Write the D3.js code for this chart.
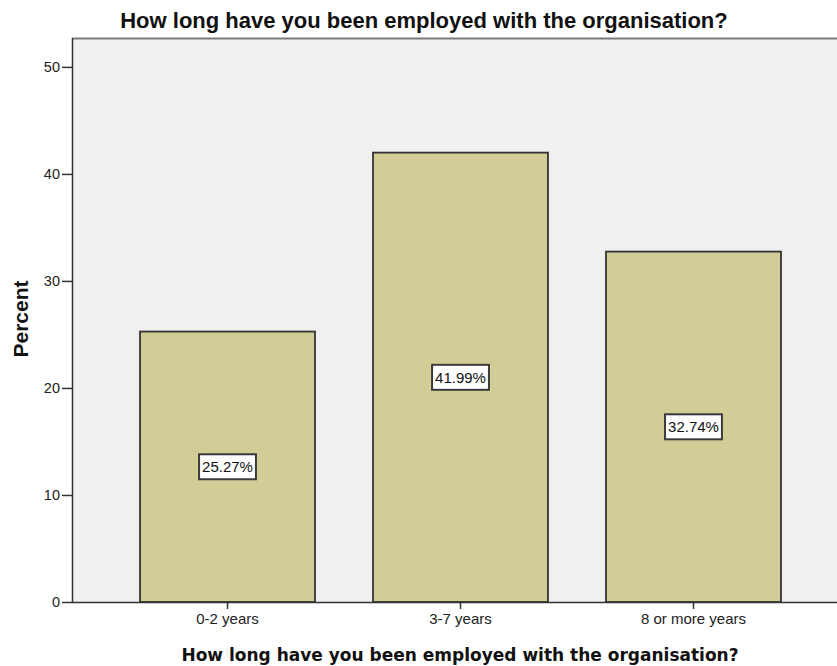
<!DOCTYPE html>
<html>
<head>
<meta charset="utf-8">
<script src="https://cdn.jsdelivr.net/npm/d3@7"></script>
<style>
  body { margin: 0; background: #ffffff; }
  svg { display: block; font-family: Arial, "Liberation Sans", sans-serif; }
</style>
</head>
<body>
<svg id="chart" width="837" height="666"></svg>
<script>
// Employment duration categories and their share of respondents (%)
const categories = ["0-2 years", "3-7 years", "8 or more years"];
const percents = [25.27, 41.99, 32.74];
const yTicks = [0, 10, 20, 30, 40, 50];
const valueLabels = ["25.27%", "41.99%", "32.74%"];

const titleText = "How long have you been employed with the organisation?";

const svg = d3.select("#chart");
const plot = { left: 72, right: 849, top: 38, bottom: 602 };

const x = d3.scaleBand()
  .domain(categories)
  .range([plot.left, plot.right])
  .paddingInner(0.249)
  .paddingOuter(0.292);

const y = d3.scaleLinear()
  .domain([0, 52.7])
  .range([plot.bottom, plot.top]);

// Plot background
svg.append("rect")
  .attr("x", plot.left).attr("y", plot.top)
  .attr("width", plot.right - plot.left).attr("height", plot.bottom - plot.top)
  .attr("fill", "#f0f0f0");

// Frame: top border
svg.append("line")
  .attr("x1", plot.left).attr("x2", plot.right)
  .attr("y1", plot.top + 0.5).attr("y2", plot.top + 0.5)
  .attr("stroke", "#7a7a7a").attr("stroke-width", 2);

// Bars
const data = categories.map((c, i) => ({ cat: c, value: percents[i], label: valueLabels[i] }));

svg.append("g").selectAll("rect")
  .data(data)
  .join("rect")
  .attr("x", d => x(d.cat))
  .attr("y", d => y(d.value))
  .attr("width", x.bandwidth())
  .attr("height", d => y(0) - y(d.value))
  .attr("fill", "#d2cd96")
  .attr("stroke", "#333333")
  .attr("stroke-width", 1.8);

// Y axis
const yAxis = d3.axisLeft(y).tickValues(yTicks).tickSize(10).tickPadding(2).tickSizeOuter(0);
const gy = svg.append("g")
  .attr("transform", `translate(${plot.left},0)`)
  .call(yAxis);
gy.select(".domain").attr("stroke", "#333").attr("stroke-width", 1.5)
  .attr("d", `M0.5,${plot.top}V${plot.bottom}`);
gy.selectAll(".tick line").attr("stroke", "#333").attr("stroke-width", 1.5);
gy.selectAll(".tick text")
  .attr("fill", "#222")
  .style("font-size", "14.5px")
  .style("font-family", "Arial, 'Liberation Sans', sans-serif");

// X axis
const xAxis = d3.axisBottom(x).tickSize(7).tickPadding(4).tickSizeOuter(0);
const gx = svg.append("g")
  .attr("transform", `translate(0,${plot.bottom})`)
  .call(xAxis);
gx.select(".domain").attr("stroke", "#333").attr("stroke-width", 1.5)
  .attr("d", `M${plot.left},0.5H${plot.right}`);
gx.selectAll(".tick line").attr("stroke", "#333").attr("stroke-width", 1.5);
gx.selectAll(".tick text")
  .attr("fill", "#222")
  .style("font-size", "15px")
  .style("font-family", "Arial, 'Liberation Sans', sans-serif");

// Value labels in boxes at mid-height of each bar
const lab = svg.append("g").selectAll("g")
  .data(data)
  .join("g")
  .attr("transform", d => `translate(${x(d.cat) + x.bandwidth() / 2},${y(d.value / 2)})`);

lab.append("text")
  .attr("text-anchor", "middle")
  .attr("dy", "0.36em")
  .style("font-size", "15px")
  .attr("fill", "#111")
  .text(d => d.label)
  .each(function () {
    const b = this.getBBox();
    d3.select(this.parentNode).insert("rect", "text")
      .attr("x", b.x - 3).attr("y", -12.5)
      .attr("width", b.width + 6).attr("height", 25)
      .attr("fill", "#ffffff")
      .attr("stroke", "#3a3a3a")
      .attr("stroke-width", 2);
  });

// Titles
svg.append("text")
  .attr("x", 424).attr("y", 28)
  .attr("text-anchor", "middle")
  .style("font-size", "22px").style("font-weight", "bold")
  .attr("fill", "#111")
  .text(titleText);

svg.append("text")
  .attr("x", 460).attr("y", 661)
  .attr("text-anchor", "middle")
  .style("font-family", "'DejaVu Sans', Verdana, sans-serif")
  .style("font-size", "17px").style("font-weight", "bold")
  .attr("fill", "#111")
  .text(titleText);

svg.append("text")
  .attr("transform", "translate(28,319) rotate(-90)")
  .attr("text-anchor", "middle")
  .style("font-size", "21px").style("font-weight", "bold")
  .attr("fill", "#111")
  .text("Percent");
</script>
</body>
</html>
